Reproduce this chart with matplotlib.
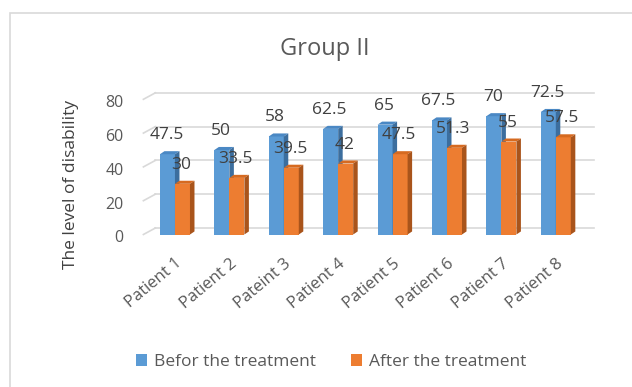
import matplotlib
matplotlib.use("Agg")
import matplotlib.pyplot as plt
import matplotlib.transforms as mtransforms
from matplotlib.patches import Polygon, Rectangle
from matplotlib.lines import Line2D

# ---- data -------------------------------------------------------------
patients = ["Patient 1", "Patient 2", "Pateint 3", "Patient 4",
            "Patient 5", "Patient 6", "Patient 7", "Patient 8"]
before = [47.5, 50, 58, 62.5, 65, 67.5, 70, 72.5]
after = [30, 33.5, 39.5, 42, 47.5, 51.3, 55, 57.5]
before_labels = ["47.5", "50", "58", "62.5", "65", "67.5", "70", "72.5"]
after_labels = ["30", "33.5", "39.5", "42", "47.5", "51.3", "55", "57.5"]
series_names = ["Befor the treatment", "After the treatment"]
y_ticks = [0, 20, 40, 60, 80]

# ---- style ------------------------------------------------------------
FONT = "Open Sans"
plt.rcParams["font.family"] = [FONT, "DejaVu Sans"]

BLUE = ("#5B9BD5", "#4A88C4", "#3C6E9E")      # front, top, side
ORANGE = ("#ED7D31", "#D66A20", "#A9541B")
GRID = "#D9D9D9"
TXT = "#595959"
LBL = "#404040"

W, H = 632, 387
fig = plt.figure(figsize=(W / 100, H / 100), dpi=100)
fig.patch.set_facecolor("white")

# front plane of the plot area (pixel geometry)
left_px, right_px = 143.4, 581.9
bottom_px, top_px = 234.5, 99.3
ax = fig.add_axes([left_px / W, (H - bottom_px) / H,
                   (right_px - left_px) / W, (bottom_px - top_px) / H])
ax.set_xlim(-0.58, 7.48)
ax.set_ylim(0, 80)
ax.patch.set_alpha(0)
for s in ax.spines.values():
    s.set_visible(False)

# back wall sits behind the front plane
WALL_DX, WALL_DY = 12, 6.5
back = mtransforms.offset_copy(ax.transData, fig=fig, x=WALL_DX, y=WALL_DY, units="dots")
x0, x1 = ax.get_xlim()
for v in y_ticks:
    ax.plot([x0, x1], [v, v], color=GRID, lw=1.2, transform=back, clip_on=False, zorder=1)
    # side wall edge running from the front plane to the back wall
    p_front = ax.transData.transform((x0, v))
    p_back = p_front + [WALL_DX, WALL_DY]
    ax.add_line(Line2D([p_front[0], p_back[0]], [p_front[1], p_back[1]],
                       transform=mtransforms.IdentityTransform(),
                       color=GRID, lw=1.2, clip_on=False, zorder=1))

# ---- 3-D looking bars ---------------------------------------------------
BAR_W = 0.276
DX, DY = 0.083, 1.8   # depth of each bar in data units
xs = list(range(len(patients)))


def bar3d(x_left, values, colors, z):
    cont = ax.bar(x_left, values, width=BAR_W, align="edge",
                  color=colors[0], linewidth=0, zorder=z)
    for xl, v in zip(x_left, values):
        xr = xl + BAR_W
        top = Polygon([(xl, v), (xr, v), (xr + DX, v + DY), (xl + DX, v + DY)],
                      closed=True, facecolor=colors[1], lw=0, zorder=z)
        side = Polygon([(xr, 0), (xr + DX, DY), (xr + DX, v + DY), (xr, v)],
                       closed=True, facecolor=colors[2], lw=0, zorder=z)
        ax.add_patch(top)
        ax.add_patch(side)
    return cont


blue_bars = bar3d([x - BAR_W for x in xs], before, BLUE, 2)
orange_bars = bar3d(list(xs), after, ORANGE, 3)

# value labels above each bar
for x, v, t in zip(xs, before, before_labels):
    ax.annotate(t, xy=(x - BAR_W / 2, v), xytext=(-1, 19), textcoords="offset pixels",
                ha="center", va="center", fontsize=12.5, color=LBL, zorder=5,
                annotation_clip=False)
for x, v, t in zip(xs, after, after_labels):
    ax.annotate(t, xy=(x + BAR_W / 2, v), xytext=(-1, 19), textcoords="offset pixels",
                ha="center", va="center", fontsize=12.5, color=LBL, zorder=5,
                annotation_clip=False)

# ---- axes text ----------------------------------------------------------
ax.set_yticks([])
ylab_tr = mtransforms.blended_transform_factory(ax.transAxes, ax.transData) + \
    mtransforms.ScaledTranslation(-20 / 100, -4 / 100, fig.dpi_scale_trans)
for v in y_ticks:
    ax.text(0, v, str(v), transform=ylab_tr, ha="right", va="center",
            fontsize=11.5, color=TXT)

ax.set_xticks(xs)
ax.set_xticklabels(patients, rotation=40, ha="right", rotation_mode="anchor",
                   fontsize=12, color=TXT)
ax.tick_params(axis="x", length=0, pad=15)
ax.tick_params(axis="y", length=0)

fig.text(325 / W, 1 - 55 / H, "Group II", ha="center", va="baseline",
         fontsize=17, color=TXT)
fig.text(71 / W, 1 - 184 / H, "The level of disability", rotation=90,
         ha="center", va="center", fontsize=12.5, color=LBL)

fig.legend([blue_bars, orange_bars], series_names, loc="center",
           bbox_to_anchor=(331 / W, 1 - 362 / H), ncol=2, frameon=False,
           fontsize=12.5, handlelength=0.65, handleheight=0.65,
           handletextpad=0.4, columnspacing=2.0, labelcolor=TXT)

# chart area border
fig.add_artist(Rectangle((10 / W, -0.1), 1.2, 1.1 - 13 / H, transform=fig.transFigure,
                         fill=False, edgecolor=GRID, lw=1.2))

fig.savefig("out.png", dpi=100)
